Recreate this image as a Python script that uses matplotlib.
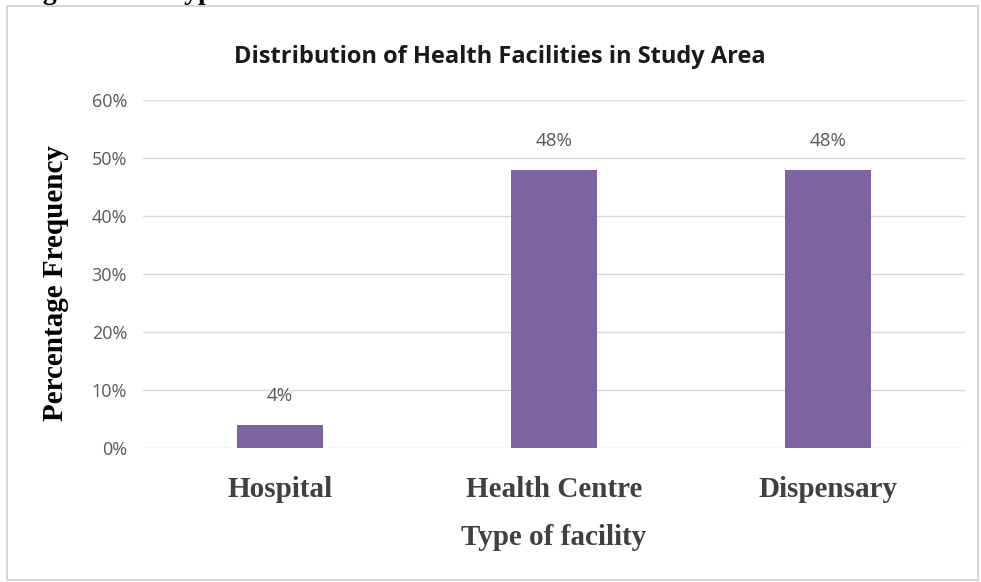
import matplotlib.pyplot as plt
from matplotlib.patches import Rectangle

categories = ["Hospital", "Health Centre", "Dispensary"]
values = [4, 48, 48]
yticks = [0, 10, 20, 30, 40, 50, 60]

fig = plt.figure(figsize=(9.81, 5.82), dpi=100)
ax = fig.add_axes([143 / 981, 1 - 448 / 582, 822 / 981, 348 / 582])

# outer chart frame
fig.patches.append(Rectangle((7 / 981, 2 / 582), 971 / 981, 574 / 582,
                             transform=fig.transFigure, fill=False,
                             edgecolor="#d0d0d0", linewidth=1.2))

# caption line of the page, sitting just above the top edge
fig.text(18 / 981, 1 + 1 / 582, "Figure 4.12: Type of Health Facilities",
         fontsize=20, fontweight="bold", family="Liberation Serif",
         va="baseline", ha="left")

x = range(len(categories))
bars = ax.bar(x, values, width=0.315, color="#7e62a1", zorder=3)
for b, v in zip(bars, values):
    ax.text(b.get_x() + b.get_width() / 2, v + 5.0, f"{v}%", ha="center",
            va="center", fontsize=13.5, color="#595959", family="Open Sans")

ax.set_xlim(-0.5, 2.5)
ax.set_ylim(0, 60)
ax.set_yticks(yticks)
ax.set_yticklabels([f"{t}%" for t in yticks], fontsize=13, color="#595959",
                   family="Open Sans")
ax.set_xticks(list(x))
ax.set_xticklabels(categories, fontsize=21, fontweight="bold",
                   family="Liberation Serif", color="#404040")
ax.tick_params(axis="both", length=0)
ax.tick_params(axis="y", pad=11.5)
ax.tick_params(axis="x", pad=20)
ax.grid(axis="y", color="#d9d9d9", linewidth=1, zorder=0)
for s in ax.spines.values():
    s.set_visible(False)

ax.set_xlabel("Type of facility", fontsize=21, fontweight="bold",
              family="Liberation Serif", color="#404040", labelpad=15)
ax.set_ylabel("Percentage Frequency", fontsize=21, fontweight="bold",
              family="Liberation Serif", color="black")
ax.yaxis.set_label_coords(-0.09, 0.474)

fig.text(500 / 981, 1 - 57 / 582, "Distribution of Health Facilities in Study Area",
         ha="center", va="center", fontsize=17, fontweight="bold",
         family="Open Sans", color="#1a1a1a")

fig.savefig("out.png", dpi=100)
